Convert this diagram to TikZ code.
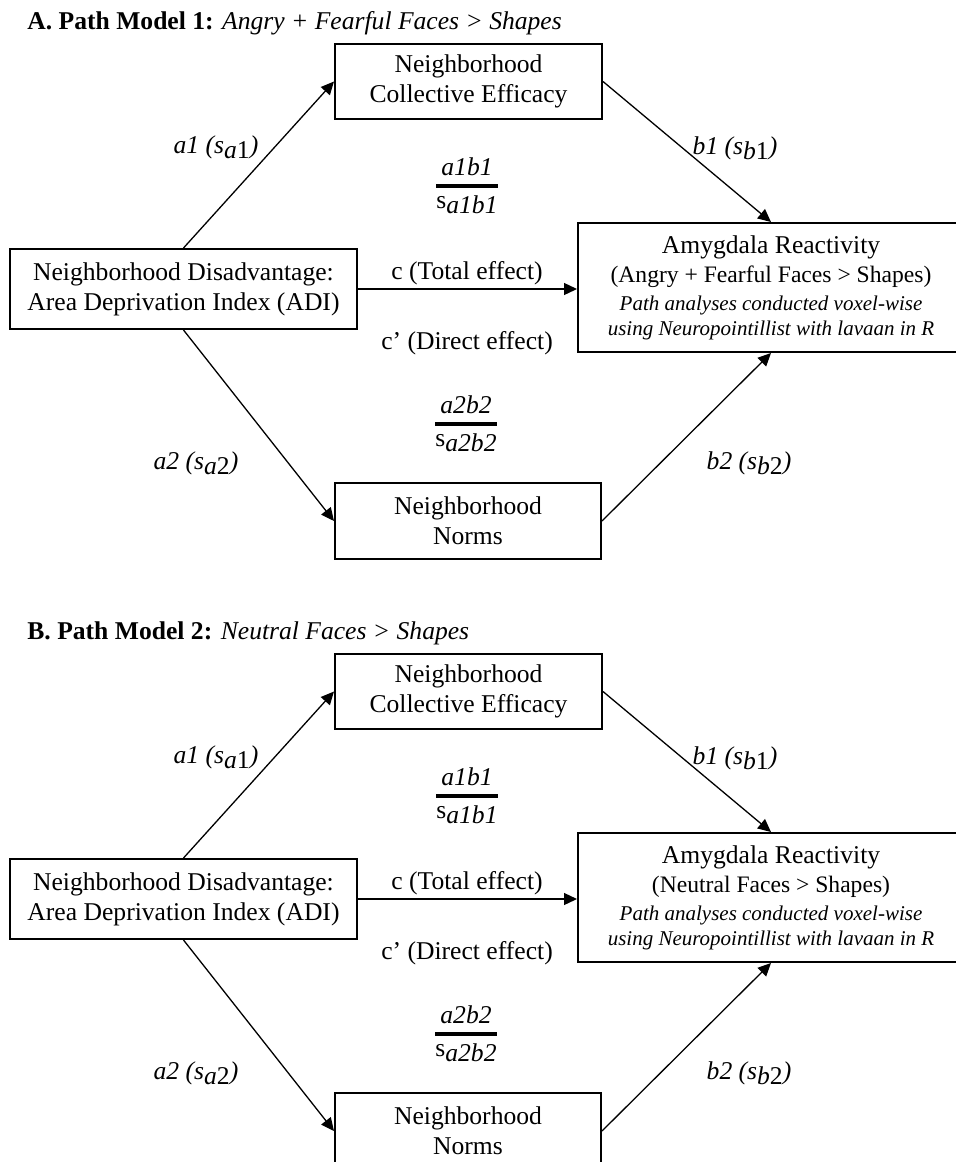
\documentclass[tikz,border=0pt]{standalone}
\usepackage{fontspec}
\setmainfont{Liberation Serif}
\usetikzlibrary{arrows.meta}

\newcommand{\bodyfont}{\fontsize{12.8pt}{15pt}\selectfont}
\newcommand{\condfont}{\fontsize{11.8pt}{14pt}\selectfont}
\newcommand{\notefont}{\fontsize{10.5pt}{12.5pt}\selectfont\itshape}
\newcommand{\lowr}[1]{\raisebox{-0.45ex}{#1}}

\tikzset{
  box/.style={draw, line width=1pt, align=center, inner sep=0pt, font=\bodyfont},
  effect/.style={-{Triangle[length=6.5pt,width=6pt]}, line width=0.65pt},
  coef/.style={font=\bodyfont\itshape, inner sep=1pt},
  ratio/.style={font=\bodyfont\itshape, inner sep=0pt}
}

\begin{document}
\begin{tikzpicture}[x=0.5pt,y=-0.5pt]
  \useasboundingbox (0,0) rectangle (956,1162);
  \clip (0,0) rectangle (956,1162);
  \fill[white] (0,0) rectangle (956,1162);
  \foreach \panel/\dy/\model/\contrast in {A/0/1/{Angry + Fearful Faces > Shapes}, B/610/2/{Neutral Faces > Shapes}}{
    \begin{scope}[shift={(0,\dy)}]
      \node[anchor=base west, inner sep=0pt, font=\bodyfont] (title\panel) at (27,29)
        {\textbf{\panel. Path Model \model:} \textit{\contrast}};
      % boxes
      \node[box, minimum width=133.5pt, minimum height=37.5pt] (ce\panel) at (468.5,81.5)
        {Neighborhood\\Collective Efficacy};
      \node[box, minimum width=173.5pt, minimum height=40pt] (adi\panel) at (183.5,289)
        {Neighborhood Disadvantage:\\Area Deprivation Index (ADI)};
      \node[box, minimum width=193pt, minimum height=64.5pt] (amy\panel) at (771,287.5)
        {Amygdala Reactivity\\[-0.5pt]{\condfont(\contrast)}\\[-1pt]{\notefont Path analyses conducted voxel-wise}\\[-2.5pt]{\notefont using Neuropointillist with lavaan in R}};
      \node[box, minimum width=133pt, minimum height=38pt] (norms\panel) at (468,521)
        {Neighborhood\\Norms};
      % paths
      \draw[effect] (adi\panel.north) -- (ce\panel.west);
      \draw[effect] (ce\panel.east) -- (amy\panel.north);
      \draw[effect] (adi\panel.east) -- (adi\panel.east -| amy\panel.west);
      \draw[effect] (adi\panel.south) -- (norms\panel.west);
      \draw[effect] (norms\panel.east) -- (amy\panel.south);
      % labels
      \node[coef] (a1\panel) at (216,147) {a1 (s\lowr{a\textup{1}})};
      \node[coef] (b1\panel) at (735,148) {b1 (s\lowr{b\textup{1}})};
      \node[coef] (a2\panel) at (196,463) {a2 (s\lowr{a\textup{2}})};
      \node[coef] (b2\panel) at (749,463) {b2 (s\lowr{b\textup{2}})};
      \node[font=\bodyfont] (total\panel) at (467,273) {c (Total effect)};
      \node[font=\bodyfont] (direct\panel) at (467,343) {c' (Direct effect)};
      \node[ratio] (ab1\panel) at (467,186)
        {\setlength{\arrayrulewidth}{1.6pt}\begin{tabular}{@{}c@{}}a1b1\\\hline{\upshape s}\lowr{a1b1}\end{tabular}};
      \node[ratio] (ab2\panel) at (466,424)
        {\setlength{\arrayrulewidth}{1.6pt}\begin{tabular}{@{}c@{}}a2b2\\\hline{\upshape s}\lowr{a2b2}\end{tabular}};
    \end{scope}
  }
\end{tikzpicture}
\end{document}
